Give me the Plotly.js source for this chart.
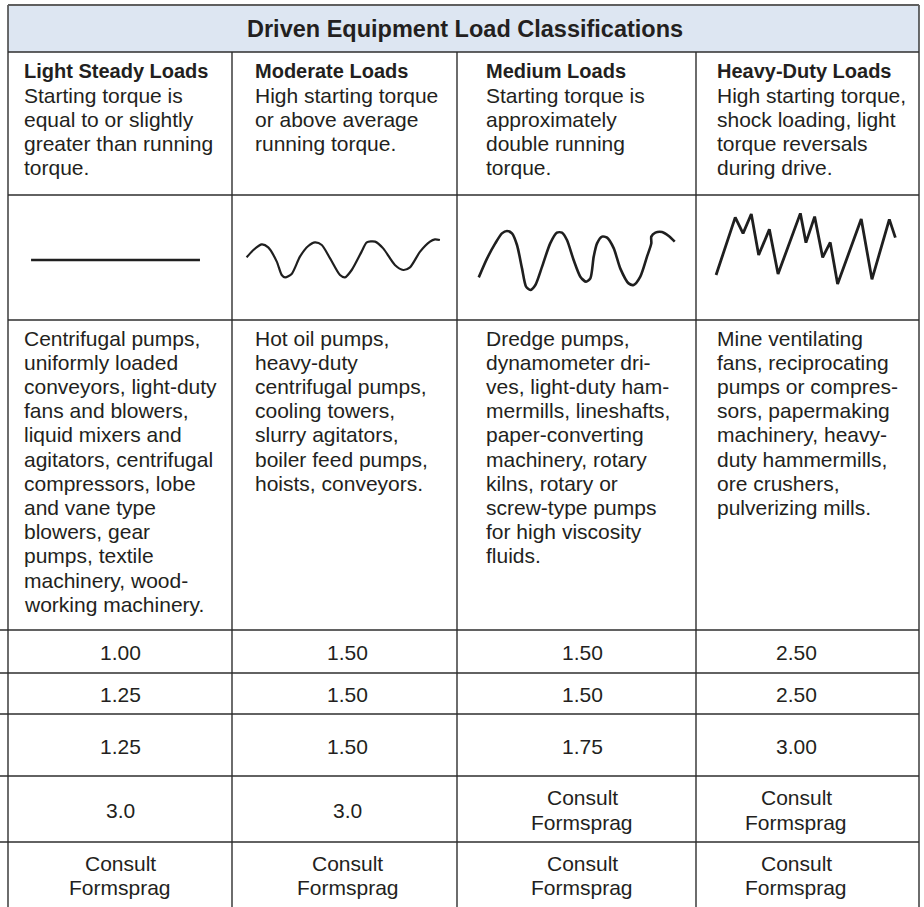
<!DOCTYPE html>
<html><head><meta charset="utf-8">
<script src="https://cdn.plot.ly/plotly-3.0.1.min.js"></script>
<style>html,body{margin:0;padding:0;background:#fff}#chart{width:924px;height:907px}</style>
</head><body><div id="chart"></div>
<script>
// ---------------- DATA ----------------
const tableTitle = "Driven Equipment Load Classifications";
const loadClasses = ["Light Steady Loads", "Moderate Loads", "Medium Loads", "Heavy-Duty Loads"];
const classDescriptions = [
  ["Starting torque is", "equal to or slightly", "greater than running", "torque."],
  ["High starting torque", "or above average", "running torque."],
  ["Starting torque is", "approximately", "double running", "torque."],
  ["High starting torque,", "shock loading, light", "torque reversals", "during drive."]
];
const typicalApplications = [
  ["Centrifugal pumps,", "uniformly loaded", "conveyors, light-duty", "fans and blowers,", "liquid mixers and",
   "agitators, centrifugal", "compressors, lobe", "and vane type", "blowers, gear", "pumps, textile",
   "machinery, wood-", "working machinery."],
  ["Hot oil pumps,", "heavy-duty", "centrifugal pumps,", "cooling towers,", "slurry agitators,",
   "boiler feed pumps,", "hoists, conveyors."],
  ["Dredge pumps,", "dynamometer dri-", "ves, light-duty ham-", "mermills, lineshafts,", "paper-converting",
   "machinery, rotary", "kilns, rotary or", "screw-type pumps", "for high viscosity", "fluids."],
  ["Mine ventilating", "fans, reciprocating", "pumps or compres-", "sors, papermaking", "machinery, heavy-",
   "duty hammermills,", "ore crushers,", "pulverizing mills."]
];
const factorsRow1 = ["1.00", "1.50", "1.50", "2.50"];
const factorsRow2 = ["1.25", "1.50", "1.50", "2.50"];
const factorsRow3 = ["1.25", "1.50", "1.75", "3.00"];
const factorsRow4 = ["3.0", "3.0", "Consult\nFormsprag", "Consult\nFormsprag"];
const factorsRow5 = ["Consult\nFormsprag", "Consult\nFormsprag", "Consult\nFormsprag", "Consult\nFormsprag"];

// torque profiles: time (% of cell width), torque level (% of cell height)
const steadyTime = [10.3, 85.7];
const steadyTorque = [48, 48];
const moderateTime = [6.5, 9.5, 13.2, 16.1, 19.9, 22.1, 23.6, 26.5, 30.2, 33.9, 36.9, 39.9, 43.6, 48.0, 50.2,
  53.2, 57.6, 59.9, 63.6, 67.2, 72.4, 76.1, 79.1, 83.6, 88.0, 90.2, 92.4];
const moderateTorque = [50.1, 56, 60.5, 58.1, 46.7, 36, 34.1, 36.8, 50.7, 59.2, 62.1, 60, 49.3, 36, 34.1,
  40, 54.7, 62.1, 62.7, 57.3, 44, 40, 42.1, 54.7, 62.7, 64.5, 64];
const mediumTime = [9.1, 12.6, 16.0, 18.8, 20.9, 23.0, 25.1, 27.2, 28.9, 30.7, 32.8, 35.6, 39.0, 41.8, 43.9,
  46.0, 48.8, 51.6, 54.0, 55.8, 57.2, 58.6, 60.7, 62.8, 65.6, 68.3, 71.8, 73.9, 76.7, 79.5, 81.3, 81.3,
  83.0, 85.8, 88.6, 91.1];
const mediumTorque = [34.1, 49.3, 61.3, 69.3, 71.2, 69.3, 60, 41.3, 26.7, 24, 28, 42.7, 61.3, 69.9, 69.9,
  64, 48, 34.7, 30.7, 33.3, 50.7, 61.3, 66.7, 65.9, 57.3, 41.3, 29.3, 28, 34.7, 50.7, 61.3, 66.7,
  69.9, 70.4, 67.2, 62.7];
const heavyTime = [9.0, 17.6, 21.1, 24.8, 28.1, 32.9, 36.8, 46.8, 49.3, 53.2, 56.8, 60.2, 63.5, 74.1, 78.9, 86.7, 89.4];
const heavyTorque = [36, 82.1, 69.3, 84.8, 52, 72.5, 36.8, 85.3, 61.9, 82.7, 50.1, 62.1, 28.8, 80.8, 32.5, 80.5, 65.9];

// ---------------- LAYOUT CONSTANTS ----------------
const W = 924, H = 907;
const colEdges = [8, 232, 457, 696, 919];
const textLeft = [22, 253, 484, 715];
const valueCenter = [120, 347.5, 582, 796];
const yTop = 5, yHeader = 52, yDesc = 195, yWave = 320, yApps = 630;
const valueRowEdges = [630, 673, 714, 776, 842, 907];
const lineStep = 24.2;
const FONT = "Liberation Sans, Arial, Helvetica, sans-serif";
const TXT = "#231f20";
const RULE = "#2e2e2e";
const BODY_SIZE = 21, HEAD_SIZE = 20, TITLE_SIZE = 23.5;

// ---------------- BUILD ----------------
const traces = [];

// table rules
const gx = [], gy = [];
function seg(x0, y0, x1, y1) { gx.push(x0, x1, null); gy.push(y0, y1, null); }
[yHeader, yDesc, yWave].forEach(y => seg(colEdges[0], y, colEdges[4], y));
valueRowEdges.slice(0, 5).forEach(y => seg(0, y, colEdges[4], y));
seg(colEdges[0], yTop, colEdges[0], H);
seg(colEdges[4], yTop, colEdges[4], H);
[1, 2, 3].forEach(i => seg(colEdges[i], yHeader, colEdges[i], H));
traces.push({type: "scatter", mode: "lines", x: gx, y: gy, xaxis: "x", yaxis: "y",
  line: {color: RULE, width: 1.4}, hoverinfo: "skip", connectgaps: false});
traces.push({type: "scatter", mode: "lines", x: [colEdges[0], colEdges[4]], y: [yTop, yTop], xaxis: "x", yaxis: "y",
  line: {color: "#5f5f5f", width: 2.2}, hoverinfo: "skip"});

// waveforms
const waves = [
  {t: steadyTime, q: steadyTorque, w: 2.6, shape: "linear"},
  {t: moderateTime, q: moderateTorque, w: 2.2, shape: "spline"},
  {t: mediumTime, q: mediumTorque, w: 2.6, shape: "spline"},
  {t: heavyTime, q: heavyTorque, w: 2.8, shape: "linear"}
];
waves.forEach((wv, i) => {
  const n = i + 2;
  traces.push({type: "scatter", mode: "lines", x: wv.t, y: wv.q, xaxis: "x" + n, yaxis: "y" + n,
    line: {color: "#1f1f1f", width: wv.w, shape: wv.shape, smoothing: 0.7}, hoverinfo: "skip"});
});

const annotations = [];
function addText(text, x, y, size, opts) {
  annotations.push(Object.assign({
    text: text, x: x, y: y, xref: "x", yref: "y", showarrow: false,
    xanchor: "left", yanchor: "middle", align: "left",
    font: {family: FONT, size: size, color: TXT}
  }, opts || {}));
}

// title
addText("<b>" + tableTitle + "</b>", (colEdges[0] + colEdges[4]) / 2 + 1, 29, TITLE_SIZE,
  {xanchor: "center", align: "center"});

// class headings + descriptions
const descBase = 78, appsBase = 345;
loadClasses.forEach((name, c) => {
  addText("<b>" + name + "</b>", textLeft[c], descBase - 7, HEAD_SIZE);
  classDescriptions[c].forEach((ln, i) => addText(ln, textLeft[c], descBase + (i + 1) * lineStep - 7, BODY_SIZE));
  typicalApplications[c].forEach((ln, i) => addText(ln, textLeft[c], appsBase + i * lineStep - 7, BODY_SIZE));
});

// service factor rows
[factorsRow1, factorsRow2, factorsRow3, factorsRow4, factorsRow5].forEach((row, r) => {
  const yc = (valueRowEdges[r] + valueRowEdges[r + 1]) / 2 + 1;
  row.forEach((val, c) => {
    const parts = val.split("\n");
    parts.forEach((p, i) => addText(p, valueCenter[c],
      yc + (i - (parts.length - 1) / 2) * lineStep, BODY_SIZE, {xanchor: "center", align: "center"}));
  });
});

const layout = {
  width: W, height: H, margin: {l: 0, r: 0, t: 0, b: 0},
  paper_bgcolor: "#ffffff", plot_bgcolor: "rgba(0,0,0,0)", showlegend: false,
  xaxis: {range: [0, W], domain: [0, 1], visible: false, fixedrange: true},
  yaxis: {range: [H, 0], domain: [0, 1], visible: false, fixedrange: true},
  shapes: [{type: "rect", xref: "x", yref: "y", x0: colEdges[0], x1: colEdges[4], y0: yTop, y1: yHeader,
    fillcolor: "#dde6f2", line: {width: 0}, layer: "below"}],
  annotations: annotations
};
for (let i = 0; i < 4; i++) {
  const n = i + 2;
  layout["xaxis" + n] = {domain: [colEdges[i] / W, colEdges[i + 1] / W], range: [0, 100], visible: false,
    fixedrange: true, anchor: "y" + n};
  layout["yaxis" + n] = {domain: [(H - yWave) / H, (H - yDesc) / H], range: [0, 100], visible: false,
    fixedrange: true, anchor: "x" + n};
}

Plotly.newPlot("chart", traces, layout, {staticPlot: true, displayModeBar: false});
</script>
</body></html>
